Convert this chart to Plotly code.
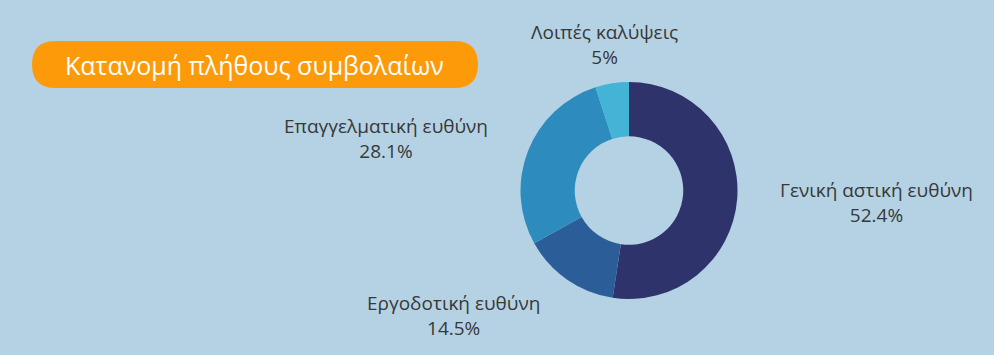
import plotly.graph_objects as go

categories = ["Γενική αστική ευθύνη", "Εργοδοτική ευθύνη", "Επαγγελματική ευθύνη", "Λοιπές καλύψεις"]
values = [52.4, 14.5, 28.1, 5]
value_labels = ["52.4%", "14.5%", "28.1%", "5%"]
colors = ["#2f336b", "#2b5e98", "#2d8bbd", "#44b4d6"]
title_text = "Κατανομή πλήθους συμβολαίων"

W, H = 994, 355
BG = "#b4d2e3"

def px(x):
    return x / W

def py(y):
    return 1 - y / H

cx, cy, r = 629, 190.5, 108.5

fig = go.Figure()
fig.add_trace(go.Pie(
    labels=categories,
    values=values,
    marker=dict(colors=colors, line=dict(width=0)),
    hole=0.5,
    sort=False,
    direction="clockwise",
    rotation=0,
    textinfo="none",
    hoverinfo="label+percent",
    showlegend=False,
    domain=dict(x=[px(cx - r), px(cx + r)], y=[py(cy + r), py(cy - r)]),
))

# label positions (pixel centres)
label_pos = [(876, 202), (453, 315), (386, 139), (604, 44)]
annotations = []
for name, val, (lx, ly) in zip(categories, value_labels, label_pos):
    annotations.append(dict(
        x=px(lx), y=py(ly), xref="paper", yref="paper",
        text=f"{name}<br>{val}", showarrow=False,
        font=dict(family="Open Sans", size=19, color="#383838"),
        xanchor="center", yanchor="middle", align="center",
    ))

annotations.append(dict(
    x=px(254), y=py(64.5), xref="paper", yref="paper",
    text=title_text, showarrow=False,
    font=dict(family="Open Sans", size=25, color="#ffffff"),
    xanchor="center", yanchor="middle",
))

# pill-shaped title box
x0, x1, y0, y1 = 32, 478, 41, 88
rr = (y1 - y0) / 2
path = (f"M {px(x0 + rr)} {py(y0)} L {px(x1 - rr)} {py(y0)} "
        f"Q {px(x1)} {py(y0)} {px(x1)} {py(y0 + rr)} "
        f"Q {px(x1)} {py(y1)} {px(x1 - rr)} {py(y1)} "
        f"L {px(x0 + rr)} {py(y1)} "
        f"Q {px(x0)} {py(y1)} {px(x0)} {py(y0 + rr)} "
        f"Q {px(x0)} {py(y0)} {px(x0 + rr)} {py(y0)} Z")

fig.update_layout(
    width=W, height=H,
    margin=dict(l=0, r=0, t=0, b=0),
    paper_bgcolor=BG, plot_bgcolor=BG,
    annotations=annotations,
    shapes=[dict(type="path", path=path, xref="paper", yref="paper",
                 fillcolor="#fd9a0a", line=dict(width=0), layer="below")],
)

fig.write_html("out.html", config={"displayModeBar": False})

# remove default browser body margin so the figure fills the window
with open("out.html", "r", encoding="utf-8") as f:
    html = f.read()
html = html.replace("<body>", '<body style="margin:0;padding:0;overflow:hidden;background:%s">' % BG, 1)
with open("out.html", "w", encoding="utf-8") as f:
    f.write(html)
